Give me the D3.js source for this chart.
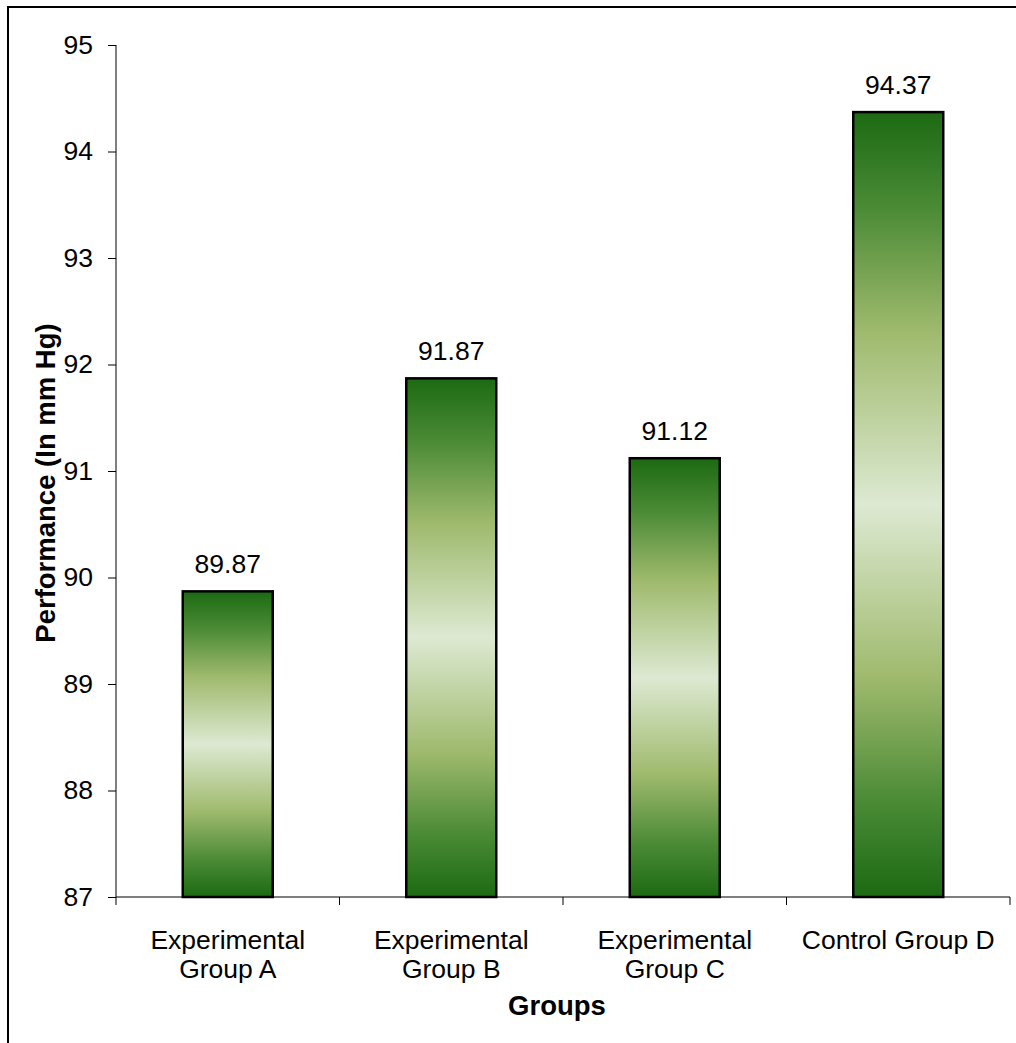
<!DOCTYPE html>
<html>
<head>
<meta charset="utf-8">
<script src="https://cdn.jsdelivr.net/npm/d3@7"></script>
<style>
  html, body { margin: 0; padding: 0; background: #fff; }
  svg { display: block; font-family: Arial, "Liberation Sans", sans-serif; }
</style>
</head>
<body>
<svg id="chart" width="1016" height="1043"></svg>
<script>
// Mean performance per group (mm Hg)
const categories = [
  ["Experimental", "Group A"],
  ["Experimental", "Group B"],
  ["Experimental", "Group C"],
  ["Control Group D"]
];
const values = [89.87, 91.87, 91.12, 94.37];
const yTicks = [87, 88, 89, 90, 91, 92, 93, 94, 95];

const svg = d3.select("#chart");
const W = 1016, H = 1043;
const plot = { left: 116, right: 1010, top: 45, bottom: 897 };
const FS = 26.5;

// Outer frame (top and left edges)
svg.append("line").attr("x1", 8).attr("x2", W).attr("y1", 7).attr("y2", 7)
  .attr("stroke", "#000").attr("stroke-width", 2);
svg.append("line").attr("x1", 8).attr("x2", 8).attr("y1", 6).attr("y2", H)
  .attr("stroke", "#000").attr("stroke-width", 2);

// Vertical green gradient used by every bar
const defs = svg.append("defs");
const grad = defs.append("linearGradient").attr("id", "barFill")
  .attr("x1", 0).attr("y1", 0).attr("x2", 0).attr("y2", 1);
[[0, "#1c6a13"], [0.12, "#4a8a35"], [0.28, "#9fba6d"], [0.5, "#dde9d2"],
 [0.72, "#9fba6d"], [0.88, "#4a8a35"], [1, "#1c6a13"]]
  .forEach(([o, c]) => grad.append("stop").attr("offset", o).attr("stop-color", c));

const x = d3.scaleBand().domain(d3.range(categories.length))
  .range([plot.left, plot.right]).paddingInner(0).paddingOuter(0);
const y = d3.scaleLinear().domain([87, 95]).range([plot.bottom, plot.top]);
const barW = 90;

// Y axis
const yAxis = svg.append("g").attr("transform", `translate(${plot.left},0)`)
  .call(d3.axisLeft(y).tickValues(yTicks).tickSize(8).tickSizeOuter(0).tickPadding(15));
yAxis.attr("font-size", FS).attr("font-family", "Arial, 'Liberation Sans', sans-serif");
yAxis.select(".domain").attr("stroke", "#000").attr("d", `M0,${plot.top}V${plot.bottom + 8}`);
yAxis.selectAll("text").attr("fill", "#000");
yAxis.selectAll(".tick line").attr("stroke", "#000");

// X axis: tick marks sit on the category boundaries
const bounds = d3.range(categories.length + 1).map(i => plot.left + i * x.bandwidth());
svg.append("line").attr("x1", plot.left).attr("x2", plot.right)
  .attr("y1", plot.bottom).attr("y2", plot.bottom).attr("stroke", "#000");
svg.selectAll(".xtick").data(bounds.slice(1)).enter().append("line")
  .attr("x1", d => d).attr("x2", d => d)
  .attr("y1", plot.bottom).attr("y2", plot.bottom + 8).attr("stroke", "#000");

// Bars
svg.selectAll(".bar").data(values).enter().append("rect")
  .attr("x", (d, i) => x(i) + (x.bandwidth() - barW) / 2)
  .attr("width", barW)
  .attr("y", d => y(d))
  .attr("height", d => y(87) - y(d))
  .attr("fill", "url(#barFill)")
  .attr("stroke", "#000").attr("stroke-width", 2.5);

// Value labels
svg.selectAll(".val").data(values).enter().append("text")
  .attr("x", (d, i) => x(i) + x.bandwidth() / 2)
  .attr("y", d => y(d) - 18)
  .attr("text-anchor", "middle").attr("font-size", FS).attr("fill", "#000")
  .text(d => d.toFixed(2));

// Category labels
categories.forEach((lines, i) => {
  const t = svg.append("text")
    .attr("x", x(i) + x.bandwidth() / 2).attr("y", 949)
    .attr("text-anchor", "middle").attr("font-size", FS).attr("fill", "#000");
  lines.forEach((s, k) => t.append("tspan")
    .attr("x", x(i) + x.bandwidth() / 2).attr("dy", k === 0 ? 0 : 29).text(s));
});

// Axis titles
svg.append("text").attr("x", (plot.left + plot.right) / 2 - 6).attr("y", 1015)
  .attr("text-anchor", "middle").attr("font-size", 27.5).attr("font-weight", "bold")
  .text("Groups");
svg.append("text")
  .attr("transform", `translate(55,${(plot.top + plot.bottom) / 2 + 12}) rotate(-90)`)
  .attr("text-anchor", "middle").attr("font-size", 27.5).attr("font-weight", "bold")
  .text("Performance (In mm Hg)");
</script>
</body>
</html>
